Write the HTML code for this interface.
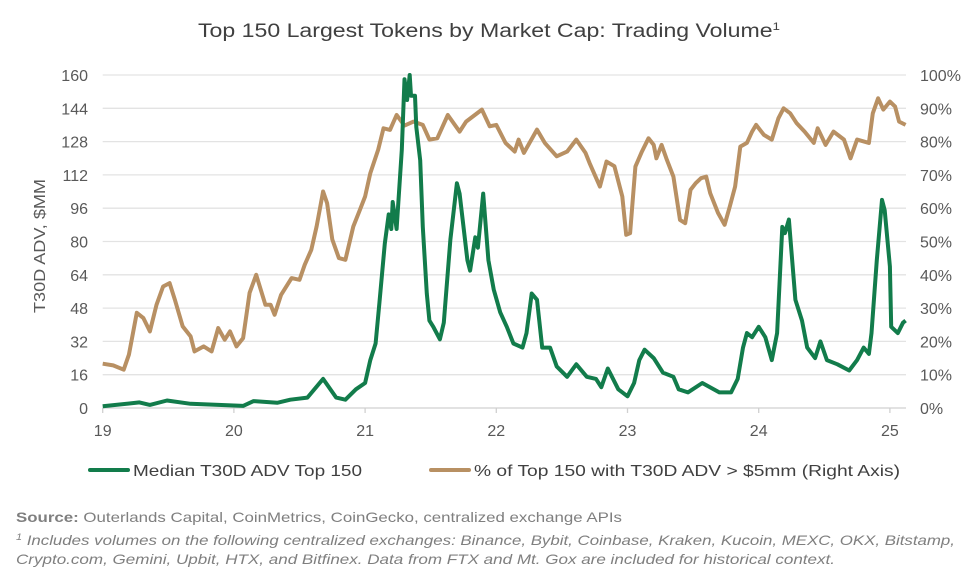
<!DOCTYPE html>
<html><head><meta charset="utf-8"><style>
body{margin:0;background:#fff;width:980px;height:578px;overflow:hidden;font-family:"Liberation Sans",sans-serif}
svg text{font-family:"Liberation Sans",sans-serif}
</style></head><body>
<svg id="chart" width="980" height="578" viewBox="0 0 980 578" xmlns="http://www.w3.org/2000/svg">
<text x="198" y="37" font-size="19" fill="#404040" textLength="582" lengthAdjust="spacingAndGlyphs">Top 150 Largest Tokens by Market Cap: Trading Volume<tspan font-size="11" dy="-7">1</tspan></text>
<g id="grid"></g>
<g id="axes"></g>
<text transform="translate(45,246) rotate(-90)" text-anchor="middle" font-size="16" fill="#595959" textLength="134" lengthAdjust="spacingAndGlyphs">T30D ADV, $MM</text>
<g id="series"></g>
<g>
<line x1="90" y1="470" x2="128" y2="470" stroke="#127c4b" stroke-width="4" stroke-linecap="round"/>
<text x="133" y="476" font-size="16" fill="#404040" textLength="229" lengthAdjust="spacingAndGlyphs">Median T30D ADV Top 150</text>
<line x1="431" y1="470" x2="469" y2="470" stroke="#b89063" stroke-width="4" stroke-linecap="round"/>
<text x="474" y="476" font-size="16" fill="#404040" textLength="426" lengthAdjust="spacingAndGlyphs">% of Top 150 with T30D ADV &gt; $5mm (Right Axis)</text>
</g>
<text x="16" y="522" font-size="14" fill="#7f7f7f" textLength="606" lengthAdjust="spacingAndGlyphs"><tspan font-weight="bold">Source:</tspan> Outerlands Capital, CoinMetrics, CoinGecko, centralized exchange APIs</text>
<text x="16" y="545" font-size="14" font-style="italic" fill="#7f7f7f" textLength="939" lengthAdjust="spacingAndGlyphs"><tspan font-size="9" dy="-5">1</tspan><tspan dy="5"> Includes volumes on the following centralized exchanges: Binance, Bybit, Coinbase, Kraken, Kucoin, MEXC, OKX, Bitstamp,</tspan></text>
<text x="16" y="564" font-size="14" font-style="italic" fill="#7f7f7f" textLength="819" lengthAdjust="spacingAndGlyphs">Crypto.com, Gemini, Upbit, HTX, and Bitfinex. Data from FTX and Mt. Gox are included for historical context.</text>
</svg>
<script>
const leftTicks=[0,16,32,48,64,80,96,112,128,144,160];
const rightTicks=["0%","10%","20%","30%","40%","50%","60%","70%","80%","90%","100%"];
const xTicks=[19,20,21,22,23,24,25];
const medianDates=[19.0,19.28,19.36,19.49,19.67,20.0,20.07,20.15,20.33,20.43,20.56,20.68,20.78,20.85,20.93,21.0,21.04,21.08,21.11,21.15,21.18,21.2,21.21,21.24,21.28,21.30,21.32,21.34,21.35,21.38,21.39,21.42,21.44,21.47,21.49,21.52,21.57,21.6,21.65,21.7,21.72,21.75,21.78,21.80,21.84,21.86,21.90,21.94,21.98,22.03,22.08,22.13,22.20,22.23,22.27,22.31,22.35,22.41,22.46,22.54,22.61,22.69,22.76,22.80,22.85,22.93,23.00,23.05,23.09,23.13,23.2,23.27,23.35,23.39,23.46,23.57,23.70,23.79,23.84,23.88,23.91,23.95,24.0,24.05,24.1,24.14,24.18,24.2,24.23,24.25,24.28,24.33,24.37,24.43,24.47,24.52,24.60,24.69,24.75,24.80,24.84,24.86,24.90,24.94,24.96,25.0,25.01,25.06,25.10,25.12];
const medianValues=[0.8,2.7,1.5,3.6,2,1.2,1,3.3,2.5,4,5,14,5,4,9,12,23,31,51,79,93,86,99,86,124,158,148,160,150,150,135,119,87,55,42,39,33,41,81,108,103,87,71,66,82,77,103,71,57,46,39,31,29,36,55,52,29,29,20,15,21,15,14,10,19,9,5.6,12,23,28,24,17,15,9,7.5,12,7.5,7.5,14,29,36,34,39,34,23,36,87,84,90.5,75,52,42,29,24,32,23,21,18,23,29,26,36,71,100,95,68,39,36,41,42];
const pctDates=[19.00,19.08,19.16,19.20,19.26,19.31,19.36,19.41,19.46,19.51,19.55,19.61,19.67,19.70,19.77,19.83,19.88,19.93,19.97,20.02,20.07,20.12,20.17,20.24,20.28,20.31,20.36,20.44,20.50,20.54,20.59,20.63,20.68,20.71,20.75,20.80,20.85,20.91,20.96,21.00,21.04,21.10,21.14,21.19,21.24,21.30,21.37,21.44,21.49,21.55,21.63,21.72,21.77,21.89,21.95,22.0,22.07,22.14,22.17,22.21,22.31,22.37,22.46,22.54,22.61,22.68,22.71,22.79,22.84,22.90,22.96,22.99,23.02,23.06,23.11,23.16,23.20,23.22,23.26,23.30,23.35,23.40,23.44,23.48,23.52,23.56,23.60,23.63,23.69,23.74,23.78,23.82,23.86,23.91,23.95,23.98,24.04,24.10,24.15,24.19,24.24,24.29,24.35,24.42,24.45,24.51,24.57,24.65,24.70,24.75,24.84,24.87,24.91,24.95,25.0,25.04,25.07,25.12];
const pctValues=[13.3,12.8,11.5,16,28.6,27,23,31,36.5,37.5,32.5,24.5,21.5,17,18.5,17,24,20.5,23,18.5,21,34.6,40,31,31,28,34,39,38.5,43,47.5,54.5,65,61.5,50.6,45,44.5,54.5,59.5,63.5,70.5,77.6,84,83.5,88,84.8,86,85,80.6,81,88,83,86,89.6,84.6,85,79.6,77,80.6,76.6,83.6,79.6,75.6,77,80.6,76.6,73.6,66.5,74,72.6,63.5,52,52.5,72.5,77,81,79,75,79,74.5,69.5,56.5,55.5,65.5,67.5,69,69.5,64.5,58.6,55,60.5,66.5,78.5,79.6,83,85,82,80.6,87,90,88.5,85.5,83,79.6,84,79,83,80.6,75,80.6,79.6,88.5,93,89.6,92,90.5,86,85];

const X0=102.7,X1=906,Y0=408,Y1=75;
const xs=y=>X0+(y-19)*131.2;
const yL=v=>Y0-(v/160)*(Y0-Y1);
const yR=p=>Y0-(p/100)*(Y0-Y1);
const NS="http://www.w3.org/2000/svg";
const mk=(t,a)=>{const e=document.createElementNS(NS,t);for(const k in a)e.setAttribute(k,a[k]);return e;};
const grid=document.getElementById('grid'),axes=document.getElementById('axes'),ser=document.getElementById('series');
leftTicks.forEach((v,i)=>{
  const y=yL(v);
  const g=mk('line',{x1:X0,x2:X1,y1:y,y2:y,stroke:i===0?'#d0d0d0':'#e3e3e3','stroke-width':1.3});
  
  
  grid.appendChild(g);
  const t=mk('text',{x:88,y:y+6,'text-anchor':'end','font-size':16,fill:'#595959'});
  t.textContent=v;
  
  
  axes.appendChild(t);
  const r=mk('text',{x:920,y:y+6,'font-size':16,fill:'#595959'});
  r.textContent=rightTicks[i];
  
  
  axes.appendChild(r);
});
xTicks.forEach(v=>{
  const x=xs(v);
  const m=mk('line',{x1:x,x2:x,y1:Y0,y2:Y0+5,stroke:'#d0d0d0','stroke-width':1.3});
  
  
  axes.appendChild(m);
  const t=mk('text',{x:x,y:Y0+28,'text-anchor':'middle','font-size':16,fill:'#595959'});
  t.textContent=v;
  
  
  axes.appendChild(t);
});
const pPct=mk('polyline',{points:pctDates.map((d,i)=>xs(d).toFixed(1)+','+yR(pctValues[i]).toFixed(1)).join(' '),fill:'none',stroke:'#b89063','stroke-width':4,'stroke-linejoin':'round'});


ser.appendChild(pPct);
const pMed=mk('polyline',{points:medianDates.map((d,i)=>xs(d).toFixed(1)+','+yL(medianValues[i]).toFixed(1)).join(' '),fill:'none',stroke:'#127c4b','stroke-width':4,'stroke-linejoin':'round'});


ser.appendChild(pMed);
</script>
</body></html>
